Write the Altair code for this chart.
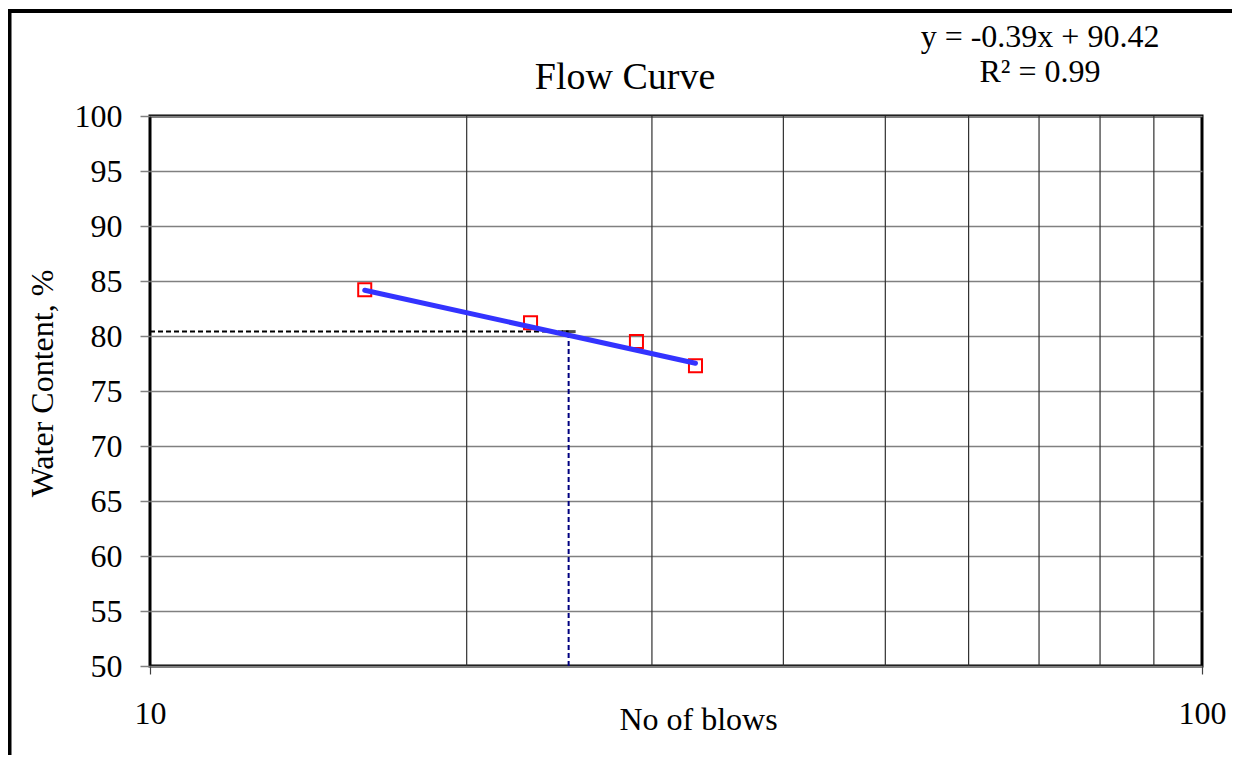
import altair as alt
import pandas as pd

# ---- data ----
blows = [16, 23, 29, 33]
water_content = [84.2, 81.2, 79.5, 77.3]
grid_blows = [20, 30, 40, 50, 60, 70, 80, 90]
x_tick_values = [10, 100]
y_tick_values = [50, 55, 60, 65, 70, 75, 80, 85, 90, 95, 100]
ll_blows = 25
ll_wc = 80.4
x_min, x_max = 10, 100
y_min, y_max = 50, 100
chart_title = "Flow  Curve"
eq_line1 = "y = -0.39x + 90.42"
eq_line2 = "R² = 0.99"
x_title = "No of blows"
y_title = "Water Content, %"

FONT = "Liberation Serif"

pts = pd.DataFrame({"blows": blows, "wc": water_content})
grid_df = pd.DataFrame({"blows": grid_blows})
hline_df = pd.DataFrame({"blows": [x_min], "blows2": [ll_blows], "wc": [ll_wc]})
vline_df = pd.DataFrame({"blows": [ll_blows], "wc": [y_min], "wc2": [ll_wc]})
ll_df = pd.DataFrame({"blows": [ll_blows], "wc": [ll_wc]})

xscale = alt.Scale(type="log", domain=[x_min, x_max], nice=False)
yscale = alt.Scale(domain=[y_min, y_max], nice=False, zero=False)

x_axis = alt.Axis(
    values=x_tick_values,
    format="d",
    title=x_title,
    grid=False,
    domain=False,
    ticks=True,
    tickSize=8,
    tickColor="#404040",
    tickWidth=1.2,
    labelFont=FONT,
    labelFontSize=32,
    labelColor="black",
    labelPadding=24,
    labelFlush=False,
    titleFont=FONT,
    titleFontSize=32,
    titleFontWeight="normal",
    titleColor="black",
    titleX=548,
    titleY=63,
    titleBaseline="alphabetic",
)

y_axis = alt.Axis(
    values=y_tick_values,
    title=y_title,
    grid=True,
    gridColor="#808080",
    gridWidth=1.5,
    domain=False,
    tickSize=10,
    tickColor="#808080",
    tickWidth=1.5,
    labelFont=FONT,
    labelFontSize=32,
    labelColor="black",
    labelPadding=18,
    titleFont=FONT,
    titleFontSize=32,
    titleFontWeight="normal",
    titleColor="black",
    titleX=-98,
    titleY=267,
    titleBaseline="alphabetic",
)

X = lambda f: alt.X(f, type="quantitative", scale=xscale, axis=x_axis)
Y = lambda f: alt.Y(f, type="quantitative", scale=yscale, axis=y_axis)

frame = alt.Chart(alt.Data(values=[{"a": 1}])).mark_rect(
    fillOpacity=0, stroke="black", strokeWidth=4
).encode(
    x=alt.value(-140.5), x2=alt.value(1200), y=alt.value(-105), y2=alt.value(800)
)

vgrid = alt.Chart(grid_df).mark_rule(color="#303030", strokeWidth=1.2).encode(
    x=X("blows")
)

hdash = alt.Chart(hline_df).mark_rule(
    color="black", strokeWidth=2, strokeDash=[5, 3]
).encode(x=X("blows"), x2="blows2:Q", y=Y("wc"))

vdash = alt.Chart(vline_df).mark_rule(
    color="#000080", strokeWidth=2, strokeDash=[5, 3]
).encode(x=X("blows"), y=Y("wc"), y2="wc2:Q")

llmark = alt.Chart(ll_df).mark_tick(
    orient="horizontal", size=14, thickness=3, color="black"
).encode(x=X("blows"), y=Y("wc"))

points = alt.Chart(pts).mark_point(
    shape="square", size=170, filled=False, color="red", strokeWidth=2, opacity=1
).encode(x=X("blows"), y=Y("wc"))

trend = alt.Chart(pts).transform_regression(
    "blows", "wc", method="linear"
).mark_line(color="#3333ff", strokeWidth=5, strokeCap="round").encode(
    x=X("blows"), y=Y("wc")
)

title_txt = alt.Chart(alt.Data(values=[{"t": chart_title}])).mark_text(
    font=FONT, fontSize=38, color="black", align="center", baseline="alphabetic"
).encode(text="t:N", x=alt.value(475), y=alt.value(-27))

eq1 = alt.Chart(alt.Data(values=[{"t": eq_line1}])).mark_text(
    font=FONT, fontSize=32, color="black", align="center", baseline="alphabetic"
).encode(text="t:N", x=alt.value(890), y=alt.value(-69))

eq2 = alt.Chart(alt.Data(values=[{"t": eq_line2}])).mark_text(
    font=FONT, fontSize=32, color="black", align="center", baseline="alphabetic"
).encode(text="t:N", x=alt.value(890), y=alt.value(-34))

chart = alt.layer(
    frame, vgrid, hdash, vdash, llmark, points, trend, title_txt, eq1, eq2
).properties(
    width=1052,
    height=550,
    autosize="none",
    padding={"left": 142, "top": 108, "right": 30, "bottom": 89},
    background="white",
).configure(
    font=FONT
).configure_axis(
    labelFont=FONT, titleFont=FONT
).configure_view(
    stroke="black", strokeWidth=3
)

chart.save("out.html", embed_options={"renderer": "svg", "actions": False})
